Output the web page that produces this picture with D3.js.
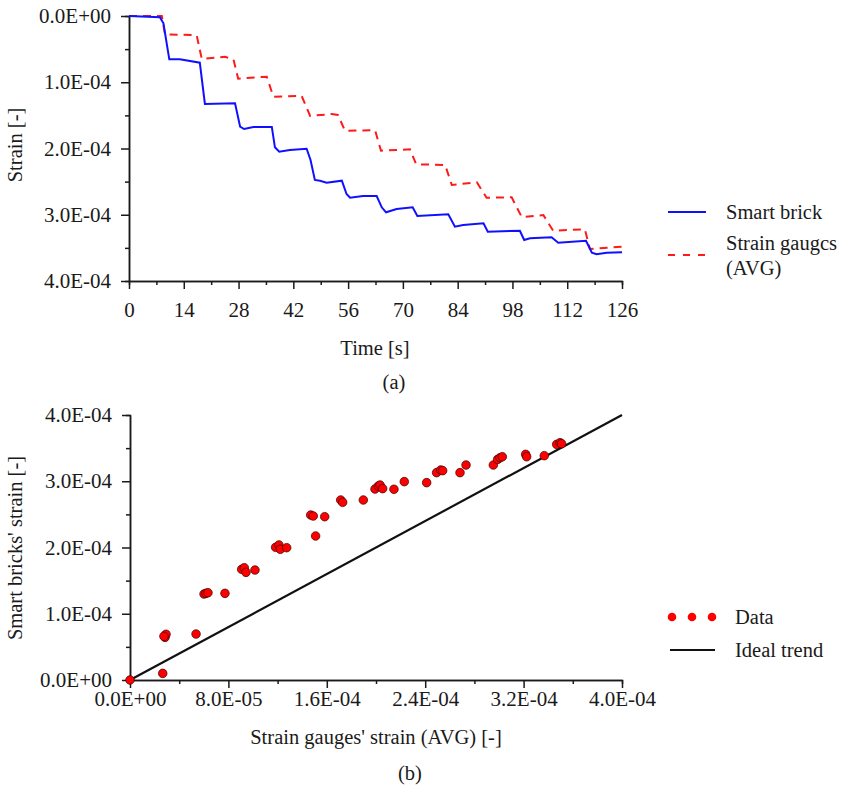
<!DOCTYPE html>
<html>
<head>
<meta charset="utf-8">
<script src="https://cdn.jsdelivr.net/npm/d3@7"></script>
<style>
  html, body { margin: 0; padding: 0; background: #fff; }
  svg text { font-family: "Liberation Serif", "Times New Roman", serif; fill: #1a1a1a; }
</style>
</head>
<body>
<svg id="chart" width="847" height="788"></svg>
<script>
// ---------- Data (strain values in units of 1e-4) ----------
// (a) Time histories
const brickTime   = [0, 7.9, 8.8, 10.3, 13.0, 18.1, 19.4, 27.1, 28.4, 29.4, 31.8, 36.5, 37.3, 38.4, 41.1, 45.4, 46.4, 47.5, 48.8, 50.5, 54.4, 55.6, 56.5, 59.8, 63.3, 64.6, 65.7, 68.4, 72.5, 73.7, 81.6, 83.3, 85.4, 90.6, 91.7, 99.9, 101.0, 102.5, 108.0, 109.7, 116.8, 118.3, 119.5, 122.1, 126];
const brickStrain = [0, 0.02, 0.11, 0.654, 0.654, 0.705, 1.328, 1.318, 1.671, 1.706, 1.675, 1.675, 1.982, 2.048, 2.023, 2.003, 2.174, 2.475, 2.486, 2.516, 2.486, 2.687, 2.743, 2.717, 2.717, 2.888, 2.963, 2.913, 2.888, 3.019, 2.993, 3.180, 3.155, 3.129, 3.256, 3.241, 3.381, 3.355, 3.340, 3.422, 3.392, 3.573, 3.597, 3.573, 3.567];

const gaugeTime   = [0, 8.4, 9.2, 17.3, 18.6, 24.5, 26.7, 27.9, 35.2, 36.9, 44.1, 46.3, 51.8, 53.4, 55.2, 62.9, 64.4, 71.8, 73.4, 80.8, 82.5, 88.9, 91.4, 97.8, 100.4, 105.9, 108.4, 116.5, 117.8, 126];
const gaugeStrain = [0, 0, 0.276, 0.291, 0.649, 0.614, 0.654, 0.946, 0.916, 1.218, 1.203, 1.509, 1.479, 1.494, 1.731, 1.725, 2.033, 2.012, 2.238, 2.249, 2.551, 2.510, 2.743, 2.737, 3.038, 3.004, 3.241, 3.220, 3.517, 3.482];

// (b) Scatter: strain gauges (x) vs smart brick (y)
const scatterGauge = [0, 0.266, 0.285, 0.293, 0.276, 0.537, 0.602, 0.618, 0.634, 0.772, 0.908, 0.929, 0.943, 1.016, 1.184, 1.211, 1.222, 1.274, 1.469, 1.490, 1.509, 1.583, 1.713, 1.729, 1.897, 1.992, 2.019, 2.033, 2.054, 2.146, 2.230, 2.412, 2.493, 2.526, 2.542, 2.683, 2.732, 2.954, 2.989, 3.008, 3.027, 3.217, 3.225, 3.368, 3.469, 3.496, 3.509];
const scatterBrick = [0, 0.10, 0.644, 0.690, 0.660, 0.694, 1.298, 1.308, 1.318, 1.308, 1.671, 1.695, 1.625, 1.660, 2.003, 2.038, 1.973, 1.997, 2.490, 2.475, 2.174, 2.465, 2.717, 2.682, 2.717, 2.883, 2.928, 2.943, 2.889, 2.879, 2.994, 2.979, 3.130, 3.170, 3.160, 3.130, 3.245, 3.245, 3.330, 3.355, 3.370, 3.406, 3.370, 3.386, 3.557, 3.582, 3.567];
const idealTrend = [0, 4];

// Tick labels
const timeTicks = [0, 14, 28, 42, 56, 70, 84, 98, 112, 126];
const strainTicksA = [0, 1, 2, 3, 4];
const strainLabelsA = ["0.0E+00", "1.0E-04", "2.0E-04", "3.0E-04", "4.0E-04"];
const gaugeTicksB = [0, 0.8, 1.6, 2.4, 3.2, 4.0];
const gaugeLabelsB = ["0.0E+00", "8.0E-05", "1.6E-04", "2.4E-04", "3.2E-04", "4.0E-04"];
const brickTicksB = [0, 1, 2, 3, 4];
const brickLabelsB = ["0.0E+00", "1.0E-04", "2.0E-04", "3.0E-04", "4.0E-04"];

// ---------- Drawing ----------
const svg = d3.select("#chart");
const FS = 20.5;
const TFS = 21;
const axisColor = "#1a1a1a";

function styleAxis(g) {
  g.selectAll("path.domain").attr("stroke", axisColor).attr("stroke-width", 1.5);
  g.selectAll(".tick line").attr("stroke", axisColor).attr("stroke-width", 1.5);
  g.selectAll(".tick text").style("font-size", TFS + "px").attr("fill", "#1a1a1a");
}

// ===== Panel (a) =====
const xA = d3.scaleLinear().domain([0, 126]).range([129, 622]);
const yA = d3.scaleLinear().domain([0, 4]).range([16, 281]);

// minor ticks
svg.append("g").attr("transform", "translate(0,281)")
  .call(d3.axisBottom(xA).tickValues(d3.range(7, 126, 14)).tickSize(4).tickFormat(""))
  .call(styleAxis);
svg.append("g").attr("transform", "translate(129,0)")
  .call(d3.axisLeft(yA).tickValues([0.5, 1.5, 2.5, 3.5]).tickSize(4).tickFormat(""))
  .call(styleAxis);
// major
svg.append("g").attr("transform", "translate(0,281)")
  .call(d3.axisBottom(xA).tickValues(timeTicks).tickSize(8).tickSizeOuter(0).tickPadding(13).tickFormat(d => d))
  .call(styleAxis);
svg.append("g").attr("transform", "translate(129,0)")
  .call(d3.axisLeft(yA).tickValues(strainTicksA).tickSize(8).tickSizeOuter(0).tickPadding(10).tickFormat((d, i) => strainLabelsA[i]))
  .call(styleAxis);

const lineA = d3.line().x(d => xA(d[0])).y(d => yA(d[1]));
svg.append("path")
  .datum(gaugeTime.map((t, i) => [t, gaugeStrain[i]]))
  .attr("d", lineA).attr("fill", "none").attr("stroke", "#ff1a1a")
  .attr("stroke-width", 2).attr("stroke-dasharray", "8,6");
svg.append("path")
  .datum(brickTime.map((t, i) => [t, brickStrain[i]]))
  .attr("d", lineA).attr("fill", "none").attr("stroke", "#1010ff")
  .attr("stroke-width", 2);

svg.append("text").attr("x", 375).attr("y", 348).attr("dy", "0.35em")
  .attr("text-anchor", "middle").style("font-size", FS + "px").text("Time [s]");
svg.append("text").attr("transform", "translate(15,145) rotate(-90)").attr("dy", "0.35em")
  .attr("text-anchor", "middle").style("font-size", FS + "px").text("Strain [-]");
svg.append("text").attr("x", 394).attr("y", 382).attr("dy", "0.35em")
  .attr("text-anchor", "middle").style("font-size", FS + "px").text("(a)");

// legend (a)
svg.append("line").attr("x1", 668).attr("x2", 706).attr("y1", 212).attr("y2", 212)
  .attr("stroke", "#1010ff").attr("stroke-width", 2);
svg.append("text").attr("x", 726).attr("y", 212).attr("dy", "0.35em")
  .style("font-size", FS + "px").text("Smart brick");
svg.append("line").attr("x1", 668).attr("x2", 706).attr("y1", 255).attr("y2", 255)
  .attr("stroke", "#ff1a1a").attr("stroke-width", 2).attr("stroke-dasharray", "7,8");
svg.append("text").attr("x", 726).attr("y", 243).attr("dy", "0.35em")
  .style("font-size", FS + "px").text("Strain gaugcs");
svg.append("text").attr("x", 726).attr("y", 268).attr("dy", "0.35em")
  .style("font-size", FS + "px").text("(AVG)");

// ===== Panel (b) =====
const xB = d3.scaleLinear().domain([0, 4]).range([130, 622]);
const yB = d3.scaleLinear().domain([0, 4]).range([680, 415]);

svg.append("g").attr("transform", "translate(0,680)")
  .call(d3.axisBottom(xB).tickValues([0.4, 1.2, 2.0, 2.8, 3.6]).tickSize(4).tickFormat(""))
  .call(styleAxis);
svg.append("g").attr("transform", "translate(130,0)")
  .call(d3.axisLeft(yB).tickValues([0.5, 1.5, 2.5, 3.5]).tickSize(4).tickFormat(""))
  .call(styleAxis);
svg.append("g").attr("transform", "translate(0,680)")
  .call(d3.axisBottom(xB).tickValues(gaugeTicksB).tickSize(8).tickSizeOuter(0).tickPadding(3).tickFormat((d, i) => gaugeLabelsB[i]))
  .call(styleAxis);
svg.append("g").attr("transform", "translate(130,0)")
  .call(d3.axisLeft(yB).tickValues(brickTicksB).tickSize(8).tickSizeOuter(0).tickPadding(10).tickFormat((d, i) => brickLabelsB[i]))
  .call(styleAxis);

// ideal trend
svg.append("line")
  .attr("x1", xB(idealTrend[0])).attr("y1", yB(idealTrend[0]))
  .attr("x2", xB(idealTrend[1])).attr("y2", yB(idealTrend[1]))
  .attr("stroke", "#111").attr("stroke-width", 2.2);

// data points
svg.append("g").selectAll("circle")
  .data(scatterGauge.map((g, i) => [g, scatterBrick[i]]))
  .join("circle")
  .attr("cx", d => xB(d[0])).attr("cy", d => yB(d[1])).attr("r", 4.3)
  .attr("fill", "#ff0000").attr("stroke", "#3a0000").attr("stroke-width", 0.7);

svg.append("text").attr("x", 376).attr("y", 737).attr("dy", "0.35em")
  .attr("text-anchor", "middle").style("font-size", FS + "px").text("Strain gauges' strain (AVG) [-]");
svg.append("text").attr("transform", "translate(15,548) rotate(-90)").attr("dy", "0.35em")
  .attr("text-anchor", "middle").style("font-size", FS + "px").text("Smart bricks' strain [-]");
svg.append("text").attr("x", 410).attr("y", 773).attr("dy", "0.35em")
  .attr("text-anchor", "middle").style("font-size", FS + "px").text("(b)");

// legend (b)
svg.append("g").selectAll("circle").data([672, 692, 712]).join("circle")
  .attr("cx", d => d).attr("cy", 617).attr("r", 4.3).attr("fill", "#ff0000");
svg.append("text").attr("x", 735).attr("y", 617).attr("dy", "0.35em")
  .style("font-size", FS + "px").text("Data");
svg.append("line").attr("x1", 670).attr("x2", 715).attr("y1", 650).attr("y2", 650)
  .attr("stroke", "#111").attr("stroke-width", 2.2);
svg.append("text").attr("x", 735).attr("y", 650).attr("dy", "0.35em")
  .style("font-size", FS + "px").text("Ideal trend");
</script>
</body>
</html>
